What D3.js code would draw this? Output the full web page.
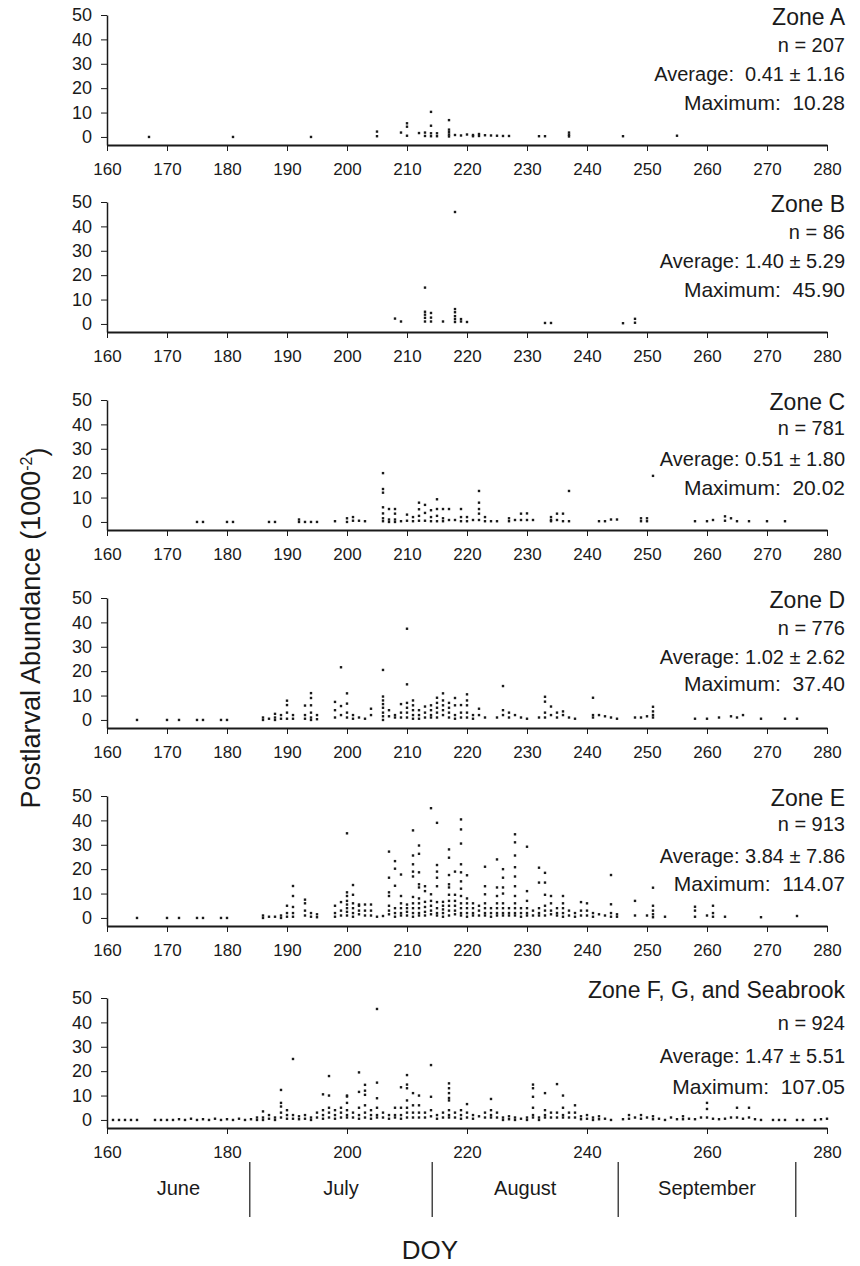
<!DOCTYPE html>
<html>
<head>
<style>
  body { margin: 0; background: #fff; }
  svg { display: block; font-family: "Liberation Sans", Arial, sans-serif; }
</style>
</head>
<body>
<svg width="860" height="1266"></svg>
<script src="https://d3js.org/d3.v7.min.js"></script>
<script>
// panel labels and summary stats
const zoneNames = ["Zone A", "Zone B", "Zone C", "Zone D", "Zone E", "Zone F, G, and Seabrook"];
const zoneN = [207, 86, 781, 776, 913, 924];
const zoneAvg = ["Average:  0.41 ± 1.16", "Average: 1.40 ± 5.29", "Average: 0.51 ± 1.80",
                 "Average: 1.02 ± 2.62", "Average: 3.84 ± 7.86", "Average: 1.47 ± 5.51"];
const zoneMax = ["10.28", "45.90", "20.02", "37.40", "114.07", "107.05"];

const xTicks = [160, 170, 180, 190, 200, 210, 220, 230, 240, 250, 260, 270, 280];
const xTicksLast = [160, 180, 200, 220, 240, 260, 280];
const yTicks = [0, 10, 20, 30, 40, 50];

const months = ["June", "July", "August", "September"];
const monthEdges = [160, 183.8, 214.2, 245.2, 274.8];

// [DOY, [abundances]]
const zoneA = [[167,[0]],[181,[0]],[194,[0]],[205,[2.2,0.3]],[209,[1.8]],[210,[5.6,4.2,0.5]],[212,[1.6]],
  [213,[1.8,0.4]],[214,[10.28,4.6,1.5,0.3]],[215,[1.5,0.3]],[217,[6.9,3,2,1,0.2]],[218,[0.8]],[219,[0.6]],
  [220,[1]],[221,[0.8,0.3]],[222,[1.2,0.4]],[223,[0.7]],[224,[0.6]],[225,[0.5]],[226,[0.4]],[227,[0.4]],
  [232,[0.3]],[233,[0.3]],[237,[1.8,0.9,0.2]],[246,[0.3]],[255,[0.5]]];

const zoneB = [[208,[2.2]],[209,[1]],[213,[14.9,5,3.8,2.5,1]],[214,[4.5,2.6,1]],[216,[1]],
  [218,[45.9,6.1,4.8,3.2,2,0.8]],[219,[2,1]],[220,[0.8]],[233,[0.4]],[234,[0.4]],[246,[0.3]],[248,[2.1,0.5]]];

const zoneC = [[175,[0]],[176,[0]],[180,[0]],[181,[0]],[187,[0]],[188,[0]],[192,[1,0]],[193,[0]],[194,[0]],
  [195,[0]],[198,[0.3]],[200,[1.5,0]],[201,[2,0.5]],[202,[0.5]],[203,[0.3]],
  [206,[20.02,13.5,12,6,3.5,1.5,0.3]],[207,[5.3,1,0]],[208,[5.3,3.4,1,0]],[209,[0.3]],[210,[3,0.5]],
  [211,[2,0.3]],[212,[7.9,5.2,2.5,0.5]],[213,[7,3.7,0.5]],[214,[4.8,2,0.3]],[215,[9.3,5.3,2.5,0.3]],
  [216,[5.3,1.5,0.3]],[217,[5.3,0.8]],[218,[0.8]],[219,[5.3,2,0.3]],[220,[2,0.3]],[221,[0.8]],
  [222,[12.7,7.9,5.3,3.4,0.8]],[223,[2,0.3]],[224,[0.3]],[225,[0.3]],[227,[1.5,0.3]],[228,[0.8]],
  [229,[3.4,0.8]],[230,[3.5,0.8]],[231,[0.8]],[234,[2,0.8,0.3]],[235,[3.4,0.8]],[236,[3.4,0.3]],
  [237,[12.7,0.3]],[242,[0.3]],[243,[0.3]],[244,[1]],[245,[1]],[249,[1.5,0.3]],[250,[1.5,0.3]],
  [251,[18.9]],[258,[0.3]],[260,[0.3]],[261,[0.8]],[263,[2.3,0.5]],[264,[1.5]],[265,[0.3]],[267,[0.3]],
  [270,[0.3]],[273,[0.3]]];

const zoneD = [[165,[0]],[170,[0]],[172,[0]],[175,[0]],[176,[0]],[179,[0]],[180,[0]],[186,[1,0]],[187,[0.5]],
  [188,[2.5,1,0]],[189,[2,0.5]],[190,[7.9,6.1,3,0.5]],[191,[2,0.5]],[193,[5.9,2,0.5]],[194,[11,9,6,3,1,0]],
  [195,[2,0.3]],[198,[7.4,4,1]],[199,[21.6,5.7,2]],[200,[10.9,6.7,3,1]],[201,[2,0.5]],[202,[1]],[203,[0.5]],
  [204,[4.6,2]],[206,[20.5,9.6,8,6.5,5,3,1.5,0]],[207,[4,1.5]],[208,[2,1]],[209,[6.5,3,1]],
  [210,[37.4,14.6,7,5,3,1]],[211,[8,6,4,2,0.5]],[212,[4,2,0.5]],[213,[5.5,3,1]],[214,[6,4,2,1]],
  [215,[9.1,7,5,3,1]],[216,[10.9,8,6,4,2]],[217,[7,5,3,1]],[218,[9,6,2,0.5]],[219,[6.1,3,1]],
  [220,[10.5,8,6,3,1]],[221,[2,0.5]],[222,[4.6,2]],[223,[1]],[225,[1]],[226,[13.9,4,2]],[227,[3,1]],
  [228,[2]],[229,[1]],[230,[0.5]],[232,[1]],[233,[9.5,7.5,3,1]],[234,[5.5,2]],[235,[3,1]],[236,[3.5,2]],
  [237,[1]],[238,[0.5]],[241,[9.1,2,1]],[242,[2]],[243,[1.5]],[244,[1]],[245,[0.5]],[248,[1]],[249,[1]],
  [250,[1.5]],[251,[5.4,3.5,2,1]],[258,[0.5]],[260,[0.5]],[262,[1]],[264,[1.5]],[265,[1]],[266,[2]],
  [269,[0.5]],[273,[0.5]],[275,[0.5]]];

const zoneE = [[165,[0]],[170,[0]],[172,[0]],[175,[0]],[176,[0]],[179,[0]],[180,[0]],[186,[1,0]],[187,[0.5]],
  [188,[0.5]],[189,[1,0]],[190,[5,2,0.5]],[191,[13.1,9,4.5,2,0.5]],[193,[7.5,6,3,1]],[194,[2,0.5]],
  [195,[1.5,0.3]],[198,[5,2,0.5]],[199,[6.5,3,1]],[200,[34.7,10.5,9,7,5.5,4,2.5,1]],
  [201,[13.5,9.5,6,4,2,0.5]],[202,[5.5,5,3,1.5]],[203,[5.5,3,1]],[204,[5.5,3,1]],[205,[0.5]],[206,[0.8]],
  [207,[27.2,16.5,10.5,9,5,3,1.5]],[208,[23.3,20.2,13.2,4,2,0.5]],[209,[17.8,9,6,4,2,1]],[210,[5.5,4,2.5,1]],
  [211,[35.9,25.6,22,19,17,8.6,6,4,2,0.5]],[212,[29.7,26.3,18.7,13.8,12.5,8,6,4,2,1]],
  [213,[13,11,6.6,4.5,2.5,1]],[214,[45,9.7,7,5,3,1.5]],[215,[39,21.7,19,16.5,13,6.5,4,2,1]],
  [216,[6.6,5,3.5,2,0.5]],[217,[28.1,24.7,17.6,13.8,12.5,9.5,7,5,3,1]],[218,[19,9.5,7,5,3,1.5]],
  [219,[40.4,36.3,30.5,22,18.7,15,12,9,6,4,2,1]],[220,[17.5,8,6,4,2,0.5]],[221,[6,4,2,1]],[222,[5,3,1]],
  [223,[21,13,9.7,6,4,2,1]],[224,[4,2,0.5]],[225,[24,12.5,9,6,4,2,1]],[226,[20,16.5,12.5,10,6,4,2,1]],
  [227,[4,2,1]],[228,[34.3,31,25.6,20.8,17,13,9,6,4,2,1]],[229,[4,2,0.5]],[230,[29.2,11,7,4,2,1]],
  [231,[3,1]],[232,[20.6,14.5,4,2,1]],[233,[18.5,14.5,9.5,5,3,1]],[234,[9,6,3,1.5]],[235,[4,2,1]],
  [236,[9,6,4,2,0.5]],[237,[3,1]],[238,[2,0.5]],[239,[6.5,3,1]],[240,[6,3,1]],[241,[2,0.5]],[242,[1.5]],
  [243,[1]],[244,[17.6,5.6,2,0.5]],[245,[1.5,0.5]],[248,[7,1]],[250,[1]],[251,[12.4,5,3,1.5,0.3]],
  [253,[0.5]],[258,[4.6,3,0.5]],[260,[1]],[261,[5,2,0.5]],[263,[0.5]],[269,[0.3]],[275,[0.8]]];

const zoneF = [[161,[0]],[162,[0]],[163,[0]],[164,[0]],[165,[0]],[168,[0]],[169,[0]],[170,[0]],[171,[0]],
  [172,[0.3]],[173,[0]],[174,[0.5]],[175,[0]],[176,[0.3]],[177,[0]],[178,[0.5]],[179,[0]],[180,[0.3]],
  [181,[0]],[182,[0.5]],[183,[0]],[184,[0.3]],[185,[1,0]],[186,[3.5,1,0]],[187,[2,0.5]],[188,[1,0]],
  [189,[12.3,7,5.5,3,1]],[190,[4,2,0.5]],[191,[25,2,0.5]],[192,[1.5,0.3]],[193,[2,0.5]],[194,[1,0]],
  [195,[3,1]],[196,[10.5,4,2,0.5]],[197,[18,10,5,3,1]],[198,[4,2,0.5]],[199,[5,3,1]],[200,[10,9.6,7,4,2,1]],
  [201,[3,1]],[202,[19.5,11.5,5,2,0.5]],[203,[14.4,12,10.3,6,3,1]],[204,[4,2,0.5]],[205,[45.5,15.3,8.9,5,2,1]],
  [206,[3,1]],[207,[2,0.5]],[208,[5,2,1]],[209,[13.4,5,2,0.5]],[210,[18.4,14.5,13,8,5,3,1]],[211,[11,6,3,1]],
  [212,[10,6,3,1]],[213,[3,1]],[214,[22.5,9.5,4,1.5]],[215,[2,0.5]],[216,[3,1]],[217,[15,13,11,9,8,4,2,1]],
  [218,[3,1]],[219,[4,2,0.5]],[220,[6.5,3,1]],[221,[2,0.5]],[222,[1.5]],[223,[3,1]],[224,[8.6,4,2,1]],
  [225,[3,1]],[226,[1,0]],[227,[1.5,0.3]],[228,[1,0]],[229,[0.5]],[230,[1,0]],[231,[14.5,13,9.5,5,2,1]],
  [232,[1,0]],[233,[11,4,2,1]],[234,[3,1]],[235,[14.7,3,1]],[236,[10,5,2,1]],[237,[3,1]],[238,[6,3,1]],
  [239,[1.5,0.3]],[240,[2,0.5]],[241,[1,0]],[242,[1.5,0.3]],[243,[0.5]],[244,[0]],[246,[0.3]],[247,[2,0.5]],
  [248,[1]],[249,[2,0.5]],[250,[1]],[251,[1.5,0.3]],[252,[0.5]],[253,[0]],[254,[1]],[255,[0.3]],
  [256,[1.5,0.3]],[257,[0.5]],[258,[0.3]],[259,[1]],[260,[7,4.5,1]],[261,[0.5]],[262,[0.3]],[263,[0.5]],
  [264,[1]],[265,[5,1]],[266,[0.5]],[267,[5,1]],[268,[0.3]],[269,[0]],[271,[0]],[272,[0]],[273,[0]],
  [275,[0]],[276,[0]],[278,[0]],[279,[0.3]],[280,[0.5]]];

const zones = [zoneA, zoneB, zoneC, zoneD, zoneE, zoneF];

const svg = d3.select("svg");
const ink = "#1a1a1a";

const x = d3.scaleLinear().domain([160, 280]).range([107, 827]);
const panelTop = [15, 202, 400, 598, 796, 998];
const textOffsets = [[2, 30, 59, 88], [2, 30, 59, 88], [2, 28, 59, 88],
                     [2, 30, 59, 86], [2, 28, 60, 88], [-8, 25, 58, 89]];

zones.forEach(function(data, i) {
    const top = panelTop[i];
    // bottom of the y range sits a little under zero, where the x axis line is
    const y = d3.scaleLinear().domain([-3.3, 50]).range([top + 130, top]);
    const g = svg.append("g");

    const points = [];
    data.forEach(function(d) {
        d[1].forEach(function(v) { points.push({ day: d[0], v: v }); });
    });

    g.selectAll("rect.pt")
        .data(points)
        .enter().append("rect")
        .attr("class", "pt")
        .attr("x", function(d) { return x(d.day) - 1.2; })
        .attr("y", function(d) { return y(d.v) - 1.2; })
        .attr("width", 2.4)
        .attr("height", 2.4)
        .attr("fill", ink);

    const xAxis = d3.axisBottom(x)
        .tickValues(i === 5 ? xTicksLast : xTicks)
        .tickFormat(d3.format("d"))
        .tickSize(6)
        .tickSizeOuter(0)
        .tickPadding(12);

    const yAxis = d3.axisLeft(y)
        .tickValues(yTicks)
        .tickSize(6)
        .tickSizeOuter(0)
        .tickPadding(9);

    const gx = g.append("g")
        .attr("transform", "translate(0," + y(-3.3) + ")")
        .call(xAxis);
    gx.select(".domain").attr("stroke", ink).attr("stroke-width", 2);

    const gy = g.append("g")
        .attr("transform", "translate(" + x(160) + ",0)")
        .call(yAxis);
    gy.select(".domain").attr("stroke", ink).attr("stroke-width", 1.5);

    [gx, gy].forEach(function(a) {
        a.attr("font-family", null).attr("font-size", null);
        a.selectAll(".tick line").attr("stroke", ink);
        a.selectAll("text").attr("fill", ink);
    });
    gx.selectAll("text").style("font-size", "17px");
    gy.selectAll("text").style("font-size", "18px");

    const lines = [zoneNames[i], "n = " + zoneN[i], zoneAvg[i], "Maximum:  " + zoneMax[i]];
    const sizes = [23, 20, 20, 21];
    g.selectAll("text.stat")
        .data(lines)
        .enter().append("text")
        .attr("class", "stat")
        .attr("x", 845)
        .attr("y", function(d, k) { return top + textOffsets[i][k]; })
        .attr("dy", "0.35em")
        .attr("text-anchor", "end")
        .attr("fill", ink)
        .style("white-space", "pre")
        .style("font-size", function(d, k) { return sizes[k] + "px"; })
        .text(function(d) { return d; });
});

// month band under the last panel
const mg = svg.append("g");
mg.selectAll("line")
    .data(monthEdges.slice(1))
    .enter().append("line")
    .attr("x1", function(d) { return x(d); })
    .attr("x2", function(d) { return x(d); })
    .attr("y1", 1162)
    .attr("y2", 1217)
    .attr("stroke", ink)
    .attr("stroke-width", 1.2);

mg.selectAll("text")
    .data(months)
    .enter().append("text")
    .attr("x", function(d, k) { return x((monthEdges[k] + monthEdges[k + 1]) / 2); })
    .attr("y", 1188)
    .attr("dy", "0.35em")
    .attr("text-anchor", "middle")
    .attr("fill", ink)
    .style("font-size", "20px")
    .text(function(d) { return d; });

svg.append("text")
    .attr("x", 430)
    .attr("y", 1250)
    .attr("dy", "0.35em")
    .attr("text-anchor", "middle")
    .attr("fill", ink)
    .style("font-size", "26px")
    .text("DOY");

const yt = svg.append("text")
    .attr("transform", "translate(31,628) rotate(-90)")
    .attr("text-anchor", "middle")
    .attr("dy", "0.35em")
    .attr("fill", ink)
    .style("font-size", "27px");
yt.append("tspan").text("Postlarval Abundance (1000");
yt.append("tspan").attr("dy", "-0.5em").style("font-size", "16px").text("-2");
yt.append("tspan").attr("dy", "0.5em").text(")");
</script>
</body>
</html>
